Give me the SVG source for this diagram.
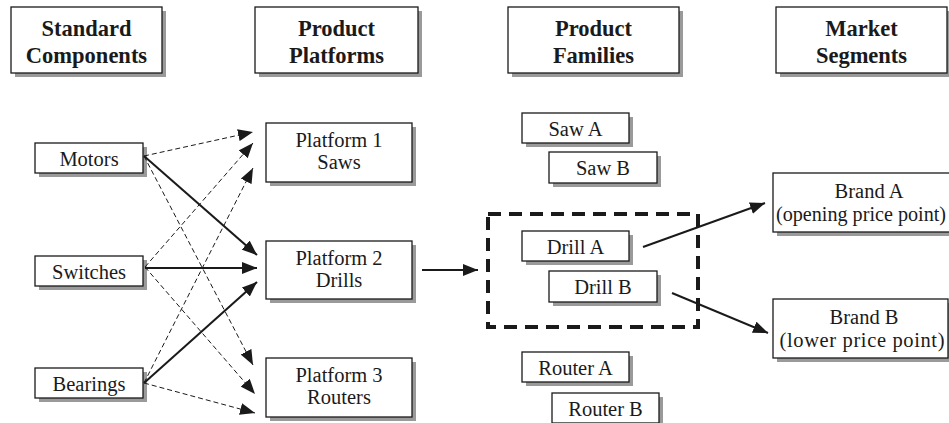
<svg xmlns="http://www.w3.org/2000/svg" width="949" height="423" viewBox="0 0 949 423" font-family="'Liberation Serif', 'Times New Roman', Times, 'DejaVu Serif', serif">
<style>
.box{fill:#fff;stroke:#1a1a1a;stroke-width:1.3}
.sh{fill:#9a9a9a}
.t{font-family:'Liberation Serif','Times New Roman',Times,'DejaVu Serif',serif;font-size:20.5px;fill:#1a1a1a;text-anchor:middle}
.h{font-family:'Liberation Serif','Times New Roman',Times,'DejaVu Serif',serif;font-size:22.5px;font-weight:bold;fill:#1a1a1a;text-anchor:middle}
.d{stroke:#1a1a1a;stroke-width:1;stroke-dasharray:5,3;fill:none}
.s{stroke:#1a1a1a;stroke-width:2;fill:none}
</style>
<defs>
<marker id="ah" viewBox="0 0 15 12" refX="15" refY="6" markerWidth="15" markerHeight="12" markerUnits="userSpaceOnUse" orient="auto">
<path d="M0,0 L15,6 L0,12 Z" fill="#1a1a1a"/>
</marker>
</defs>
<rect width="949" height="423" fill="#fff"/>

<g id="h-standard-components">
<rect class="sh" x="15" y="11" width="151" height="66"/>
<rect class="box" x="11" y="7" width="151" height="66"/>
<text class="h" x="86.5" y="36">Standard</text>
<text class="h" x="86.5" y="63">Components</text>
</g>
<g id="h-product-platforms">
<rect class="sh" x="259" y="11" width="163" height="66"/>
<rect class="box" x="255" y="7" width="163" height="66"/>
<text class="h" x="336.5" y="36">Product</text>
<text class="h" x="336.5" y="63">Platforms</text>
</g>
<g id="h-product-families">
<rect class="sh" x="512" y="11" width="171" height="66"/>
<rect class="box" x="508" y="7" width="171" height="66"/>
<text class="h" x="593.5" y="36">Product</text>
<text class="h" x="593.5" y="63">Families</text>
</g>
<g id="h-market-segments">
<rect class="sh" x="780" y="11" width="171" height="66"/>
<rect class="box" x="776" y="7" width="171" height="66"/>
<text class="h" x="861.5" y="36">Market</text>
<text class="h" x="861.5" y="63">Segments</text>
</g>

<g id="motors">
<rect class="sh" x="39" y="147" width="108" height="30"/>
<rect class="box" x="35" y="143" width="108" height="30"/>
<text class="t" x="89" y="166">Motors</text>
</g>
<g id="switches">
<rect class="sh" x="39" y="260" width="108" height="30"/>
<rect class="box" x="35" y="256" width="108" height="30"/>
<text class="t" x="89" y="279">Switches</text>
</g>
<g id="bearings">
<rect class="sh" x="39" y="372" width="108" height="30"/>
<rect class="box" x="35" y="368" width="108" height="30"/>
<text class="t" x="89" y="391">Bearings</text>
</g>

<g id="platform1">
<rect class="sh" x="270" y="127" width="146" height="59"/>
<rect class="box" x="266" y="123" width="146" height="59"/>
<text class="t" x="339" y="147">Platform 1</text>
<text class="t" x="339" y="169">Saws</text>
</g>
<g id="platform2">
<rect class="sh" x="270" y="245" width="146" height="58"/>
<rect class="box" x="266" y="241" width="146" height="58"/>
<text class="t" x="339" y="265">Platform 2</text>
<text class="t" x="339" y="287">Drills</text>
</g>
<g id="platform3">
<rect class="sh" x="270" y="362" width="146" height="59"/>
<rect class="box" x="266" y="358" width="146" height="59"/>
<text class="t" x="339" y="382">Platform 3</text>
<text class="t" x="339" y="404">Routers</text>
</g>

<g id="saw-a">
<rect class="sh" x="526" y="117" width="107" height="30"/>
<rect class="box" x="522" y="113" width="107" height="30"/>
<text class="t" x="575.5" y="136">Saw A</text>
</g>
<g id="saw-b">
<rect class="sh" x="553" y="156" width="108" height="31"/>
<rect class="box" x="549" y="152" width="108" height="31"/>
<text class="t" x="603" y="175">Saw B</text>
</g>
<g id="drill-a">
<rect class="sh" x="526" y="235" width="107" height="30"/>
<rect class="box" x="522" y="231" width="107" height="30"/>
<text class="t" x="575.5" y="254">Drill A</text>
</g>
<g id="drill-b">
<rect class="sh" x="553" y="275" width="108" height="31"/>
<rect class="box" x="549" y="271" width="108" height="31"/>
<text class="t" x="603" y="294">Drill B</text>
</g>
<g id="router-a">
<rect class="sh" x="526" y="356" width="107" height="30"/>
<rect class="box" x="522" y="352" width="107" height="30"/>
<text class="t" x="575.5" y="375">Router A</text>
</g>
<g id="router-b">
<rect class="sh" x="556" y="397" width="107" height="30"/>
<rect class="box" x="552" y="393" width="107" height="30"/>
<text class="t" x="605.5" y="416">Router B</text>
</g>

<g id="brand-a">
<rect class="sh" x="777" y="177" width="190" height="59"/>
<rect class="box" x="773" y="173" width="190" height="59"/>
<text class="t" x="869" y="198">Brand A</text>
<text class="t" x="861" y="221" textLength="170" lengthAdjust="spacingAndGlyphs">(opening price point)</text>
</g>
<g id="brand-b">
<rect class="sh" x="777" y="303" width="175" height="59"/>
<rect class="box" x="773" y="299" width="175" height="59"/>
<text class="t" x="864" y="324">Brand B</text>
<text class="t" x="862" y="347" textLength="165" lengthAdjust="spacing">(lower price point)</text>
</g>

<g id="drill-family">
<rect x="488" y="214" width="210" height="113" fill="none" stroke="#1a1a1a" stroke-width="4" stroke-dasharray="13,8"/>
</g>

<g id="connectors">
<line class="d" x1="144" y1="156" x2="253" y2="132" marker-end="url(#ah)"/>
<line class="d" x1="145" y1="267" x2="253" y2="143" marker-end="url(#ah)"/>
<line class="d" x1="144" y1="383" x2="253" y2="168" marker-end="url(#ah)"/>
<line class="s" x1="144" y1="156" x2="257" y2="255" marker-end="url(#ah)"/>
<line class="s" x1="145" y1="268" x2="257" y2="268" marker-end="url(#ah)"/>
<line class="s" x1="144" y1="383" x2="257" y2="282" marker-end="url(#ah)"/>
<line class="d" x1="144" y1="156" x2="253" y2="365" marker-end="url(#ah)"/>
<line class="d" x1="145" y1="267" x2="255" y2="394" marker-end="url(#ah)"/>
<line class="d" x1="144" y1="383" x2="255" y2="413" marker-end="url(#ah)"/>
<line class="s" x1="422" y1="270" x2="478" y2="270" marker-end="url(#ah)"/>
<line class="s" x1="643" y1="247" x2="765" y2="203" marker-end="url(#ah)"/>
<line class="s" x1="672" y1="293" x2="768" y2="333" marker-end="url(#ah)"/>
</g>
</svg>
